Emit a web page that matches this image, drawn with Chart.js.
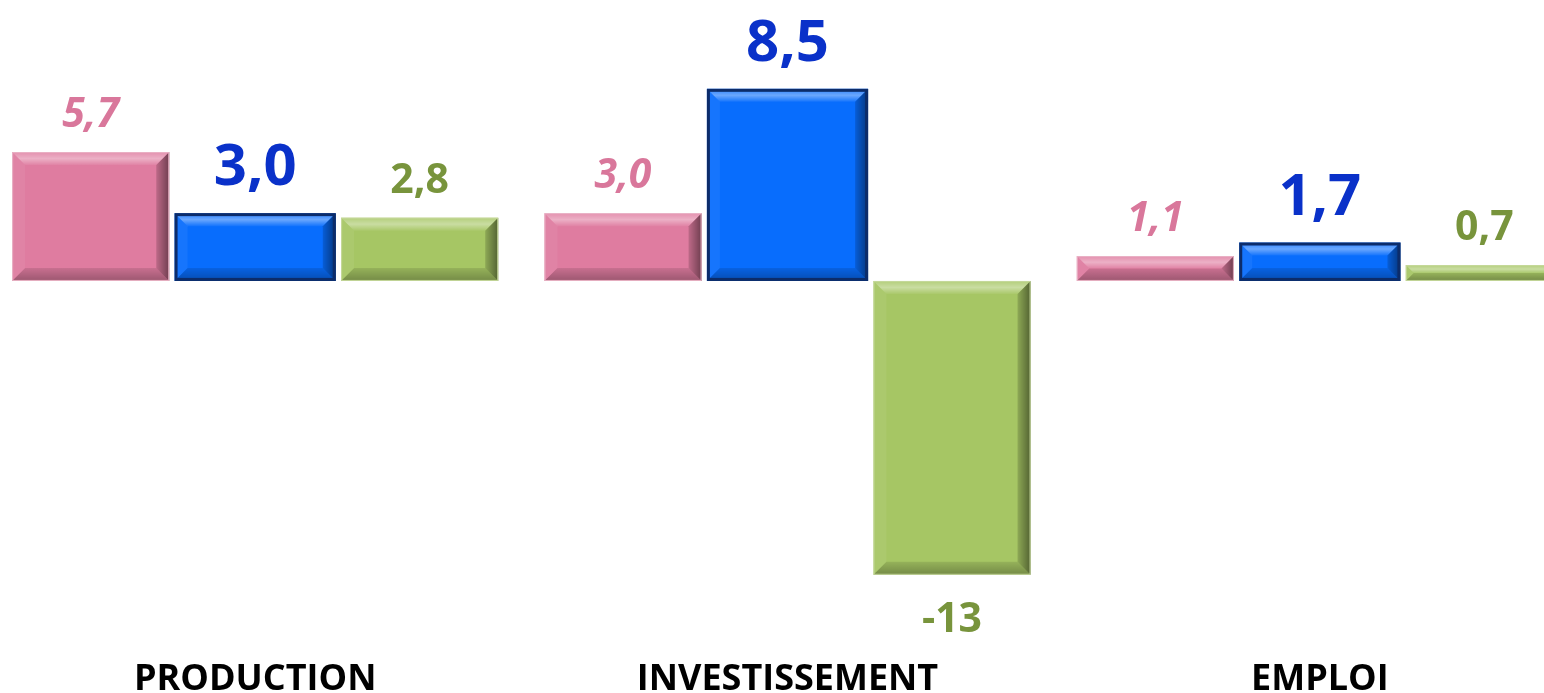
<!DOCTYPE html>
<html>
<head>
<meta charset="utf-8">
<script src="https://cdn.jsdelivr.net/npm/chart.js@4"></script>
<style>
  html, body { margin: 0; padding: 0; background: #fff; overflow: hidden; }
  #wrap { position: absolute; left: -11px; top: 0; width: 1597px; height: 693px; }
</style>
</head>
<body>
<div id="wrap"><canvas id="chart"></canvas></div>
<script>
const categories = ['PRODUCTION', 'INVESTISSEMENT', 'EMPLOI'];
const seriesPink = [5.7, 3.0, 1.1];
const seriesBlue = [3.0, 8.5, 1.7];
const seriesGreen = [2.8, -13, 0.7];

const fmt = v => Math.abs(v) >= 10 ? String(Math.round(v)) : v.toFixed(1).replace('.', ',');

// bevelled bars + value labels
const bevelPlugin = {
    id: 'bevel',
    afterDatasetsDraw(chart) {
        const ctx = chart.ctx;
        chart.data.datasets.forEach((ds, di) => {
            const meta = chart.getDatasetMeta(di);
            meta.data.forEach((bar, i) => {
                const w = bar.width;
                const l = bar.x - w / 2, r = bar.x + w / 2;
                const t = Math.min(bar.y, bar.base), b = Math.max(bar.y, bar.base);
                const h = b - t;
                const k = Math.min(13, h / 2, w / 2);
                ctx.save();
                const poly = (pts, c) => {
                    ctx.beginPath();
                    ctx.moveTo(pts[0][0], pts[0][1]);
                    pts.slice(1).forEach(p => ctx.lineTo(p[0], p[1]));
                    ctx.closePath();
                    ctx.fillStyle = c;
                    ctx.fill();
                };
                const gTop = ctx.createLinearGradient(0, t, 0, t + k);
                gTop.addColorStop(0, 'rgba(255,255,255,0.15)');
                gTop.addColorStop(0.5, 'rgba(255,255,255,0.4)');
                gTop.addColorStop(1, 'rgba(255,255,255,0.05)');
                poly([[l, t], [r, t], [r - k, t + k], [l + k, t + k]], gTop);
                poly([[l, t], [l + k, t + k], [l + k, b - k], [l, b]], 'rgba(255,255,255,0.06)');
                const gBot = ctx.createLinearGradient(0, b - k, 0, b);
                gBot.addColorStop(0, 'rgba(0,0,0,0.1)');
                gBot.addColorStop(1, 'rgba(0,0,0,0.3)');
                poly([[l, b], [l + k, b - k], [r - k, b - k], [r, b]], gBot);
                const gR = ctx.createLinearGradient(r - k, 0, r, 0);
                gR.addColorStop(0, 'rgba(0,0,0,0.15)');
                gR.addColorStop(1, 'rgba(0,0,0,0.5)');
                poly([[r, t], [r, b], [r - k, b - k], [r - k, t + k]], gR);
                ctx.lineWidth = ds.edgeWidth;
                ctx.strokeStyle = ds.edgeColor;
                const o = ds.edgeWidth / 2;
                ctx.strokeRect(l + o, t + o, w - 2 * o, h - 2 * o);

                const v = ds.data[i];
                ctx.font = ds.labelFont;
                ctx.fillStyle = ds.labelColor;
                ctx.textAlign = 'center';
                ctx.textBaseline = 'alphabetic';
                if (v >= 0) {
                    ctx.fillText(fmt(v), bar.x, t - ds.labelGap);
                } else {
                    ctx.fillText(fmt(v), bar.x, b + 57);
                }
                ctx.restore();
            });
        });
    }
};

new Chart(document.getElementById('chart'), {
    type: 'bar',
    data: {
        labels: categories,
        datasets: [
            {
                data: seriesPink,
                backgroundColor: '#df7ca0',
                borderWidth: 0,
                edgeColor: '#e9b3c6', edgeWidth: 1,
                labelFont: 'italic bold 41px "Open Sans"', labelColor: '#d9779b', labelGap: 25
            },
            {
                data: seriesBlue,
                backgroundColor: '#086dfd',
                borderWidth: 0,
                barPercentage: 0.98,
                edgeColor: '#0c2c6a', edgeWidth: 3,
                labelFont: 'bold 58px "Open Sans"', labelColor: '#0a31c9', labelGap: 28
            },
            {
                data: seriesGreen,
                backgroundColor: '#a6c664',
                borderWidth: 0,
                edgeColor: '#c6d99c', edgeWidth: 1,
                labelFont: 'bold 41px "Open Sans"', labelColor: '#78943c', labelGap: 25
            }
        ]
    },
    options: {
        responsive: true,
        maintainAspectRatio: false,
        animation: false,
        categoryPercentage: 0.927,
        barPercentage: 0.955,
        layout: { padding: 0 },
        plugins: {
            legend: { display: false },
            tooltip: { enabled: false }
        },
        scales: {
            x: {
                grid: { display: false, drawTicks: false },
                border: { display: false },
                afterFit: scale => { scale.height = 50; },
                ticks: {
                    padding: 15,
                    color: '#000',
                    font: { family: '"Open Sans"', weight: 'bold', size: 36 }
                }
            },
            y: {
                display: false,
                min: -16.02,
                max: 12.43
            }
        }
    },
    plugins: [bevelPlugin]
});
</script>
</body>
</html>
